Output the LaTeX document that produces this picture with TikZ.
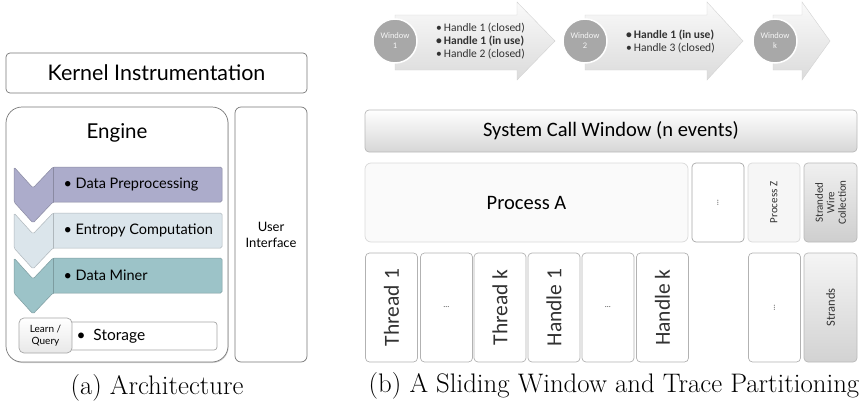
\documentclass[tikz,border=0pt]{standalone}
\usepackage{fontspec}
\usepackage{tikz}
\usetikzlibrary{shadows}
\newfontfamily\gill{Lato}
\newfontfamily\cali{Carlito}
\definecolor{prep}{RGB}{172,172,203}
\definecolor{entropy}{RGB}{219,229,235}
\definecolor{miner}{RGB}{156,195,200}
\definecolor{rim}{RGB}{120,120,120}
\definecolor{wingray}{RGB}{168,168,168}
\definecolor{ink}{RGB}{50,50,50}

\begin{document}
\begin{tikzpicture}[x=1pt,y=-1pt,
    box/.style={draw=rim, rounded corners=4pt, inner sep=0pt, line width=0.7pt, fill=white},
    rbox/.style={draw=gray!55, rounded corners=4pt, inner sep=0pt, line width=0.7pt},
    lbl/.style={inner sep=0pt, text=ink}]
  \useasboundingbox (0,0) rectangle (859,402);

  % (a) architecture
  \node[box, minimum width=301pt, minimum height=40pt, font=\gill\fontsize{21.5}{25}\selectfont] (kernel) at (156.5,73)
    {Kernel Instrumentation};
  \node[box, rounded corners=16pt, minimum width=222pt, minimum height=255pt,
    drop shadow={shadow xshift=0.6pt, shadow yshift=-1pt, opacity=0.35}] (engine) at (117,234.5) {};
  \node[box, rounded corners=6pt, minimum width=72pt, minimum height=255pt, align=center,
    font=\gill\fontsize{13}{16}\selectfont] (ui) at (271,234.5) {User\\Interface};
  \node[font=\gill\fontsize{20.5}{24}\selectfont] (enginelbl) at (117,133) {Engine};

  \foreach \t/\col/\txt/\nm in {167/prep/Data Preprocessing/prep,
                                 213/entropy/Entropy Computation/entr,
                                 258/miner/Data Miner/mine} {
    \draw[fill=\col, draw=\col!80!black, line width=0.5pt, rounded corners=1.5pt]
      (14,\t) -- (33,\t+21) -- (53,\t) -- (222,\t) -- (222,\t+35) -- (53,\t+35)
      -- (33,\t+56) -- (14,\t+35) -- cycle;
    \draw[\col!80!black, line width=0.5pt] (53,\t) -- (53,\t+35);
    \node[anchor=west, font=\gill\fontsize{14.5}{17}\selectfont] (\nm) at (60,\t+17.5)
      {\textbullet\ \txt};
  }

  \node[box, draw=gray!70, rounded corners=3pt, minimum width=157pt, minimum height=28pt] (store) at (138.5,336) {};
  \node[anchor=west, font=\gill\fontsize{15.5}{18}\selectfont] (storelbl) at (73,336) {\textbullet\ \ Storage};
  \node[box, draw=gray!70, rounded corners=5pt, top color=white, bottom color=gray!18,
    minimum width=53pt, minimum height=35pt, align=center, font=\gill\fontsize{10}{12}\selectfont]
    (learn) at (45.5,335.5) {Learn /\\Query};

  % (b) sliding window
  \foreach \x/\hb/\tip in {395/517/555, 585/707/743, 773/802/830}
    \draw[draw=gray!35, top color=gray!4, bottom color=gray!28]
      (\x,15) -- (\hb,15) -- (\hb,2) -- (\tip,41) -- (\hb,80) -- (\hb,70) -- (\x,70) -- cycle;
  \foreach \x/\k/\nm in {395/1/win1, 585/2/win2, 775/k/wink}
    \node[circle, fill=wingray, draw=white, line width=1.5pt, minimum size=44pt, inner sep=0pt,
      align=center, text=white!92!gray, font=\cali\fontsize{8.5}{10}\selectfont,
      drop shadow={shadow xshift=0pt, shadow yshift=0pt, opacity=0.25}] (\nm) at (\x,41)
      {Window\\\k};
  \node[lbl, anchor=west, align=left, font=\cali\fontsize{11.5}{13}\selectfont] (hlist1) at (436,41.5)
    {\textbullet\,Handle 1 (closed)\\ \textbf{\textbullet\,Handle 1 (in use)}\\ \textbullet\,Handle 2 (closed)};
  \node[lbl, anchor=west, align=left, font=\cali\fontsize{11.5}{13}\selectfont] (hlist2) at (626,41.5)
    {\textbf{\textbullet\,Handle 1 (in use)}\\ \textbullet\,Handle 3 (closed)};

  \node[rbox, top color=white, bottom color=gray!32, minimum width=492pt, minimum height=42pt,
    font=\cali\fontsize{20.5}{24}\selectfont] (syscall) at (611,131) {System Call Window (n events)};
  \node[rbox, draw=gray!30, fill=gray!4, rounded corners=6pt, minimum width=323pt, minimum height=79pt,
    font=\cali\fontsize{20.5}{24}\selectfont] (procA) at (526.5,202.5) {Process A};
  \node[rbox, draw=gray!70, fill=white, minimum width=52pt, minimum height=79pt] (pdots) at (718,202.5) {};
  \node[rbox, draw=gray!30, fill=gray!7, minimum width=52pt, minimum height=79pt] (procZ) at (774,202.5) {};
  \node[rbox, top color=gray!12, bottom color=gray!38, minimum width=53pt, minimum height=79pt] (wires) at (830.5,202.5) {};
  \node[lbl, rotate=90, font=\cali\fontsize{8}{9}\selectfont] at (pdots) {\ldots};
  \node[lbl, rotate=90, font=\cali\fontsize{11}{13}\selectfont] at (procZ) {Process Z};
  \node[lbl, rotate=90, align=center, font=\cali\fontsize{11}{11.5}\selectfont] at (wires)
    {Stranded\\Wire\\Collection};

  \foreach \cx/\nm in {391.5/thr1, 446.5/thrdots, 500/thrk, 554/hnd1, 608/hnddots, 662.5/hndk, 774.5/sdots}
    \node[rbox, draw=gray!60, fill=white, minimum width=52pt, minimum height=109pt] (\nm) at (\cx,307.5) {};
  \node[rbox, top color=gray!8, bottom color=gray!35, minimum width=53pt, minimum height=109pt] (strands) at (830.5,307.5) {};
  \foreach \nm/\txt in {thr1/Thread 1, thrk/Thread k, hnd1/Handle 1, hndk/Handle k}
    \node[lbl, rotate=90, font=\cali\fontsize{21.5}{25}\selectfont] at (\nm) {\txt};
  \node[lbl, font=\cali\fontsize{8}{9}\selectfont] at (thrdots) {\ldots};
  \node[lbl, font=\cali\fontsize{8}{9}\selectfont] at (hnddots) {\ldots};
  \node[lbl, rotate=90, font=\cali\fontsize{8}{9}\selectfont] at (sdots) {\ldots};
  \node[lbl, rotate=90, font=\cali\fontsize{12.5}{14}\selectfont] at (strands) {Strands};

  % captions
  \node[font=\fontsize{26.8}{30}\selectfont] (capa) at (157,388) {(a) Architecture};
  \node[font=\fontsize{26.8}{30}\selectfont] (capb) at (614,386) {(b) A Sliding Window and Trace Partitioning};
\end{tikzpicture}
\end{document}
